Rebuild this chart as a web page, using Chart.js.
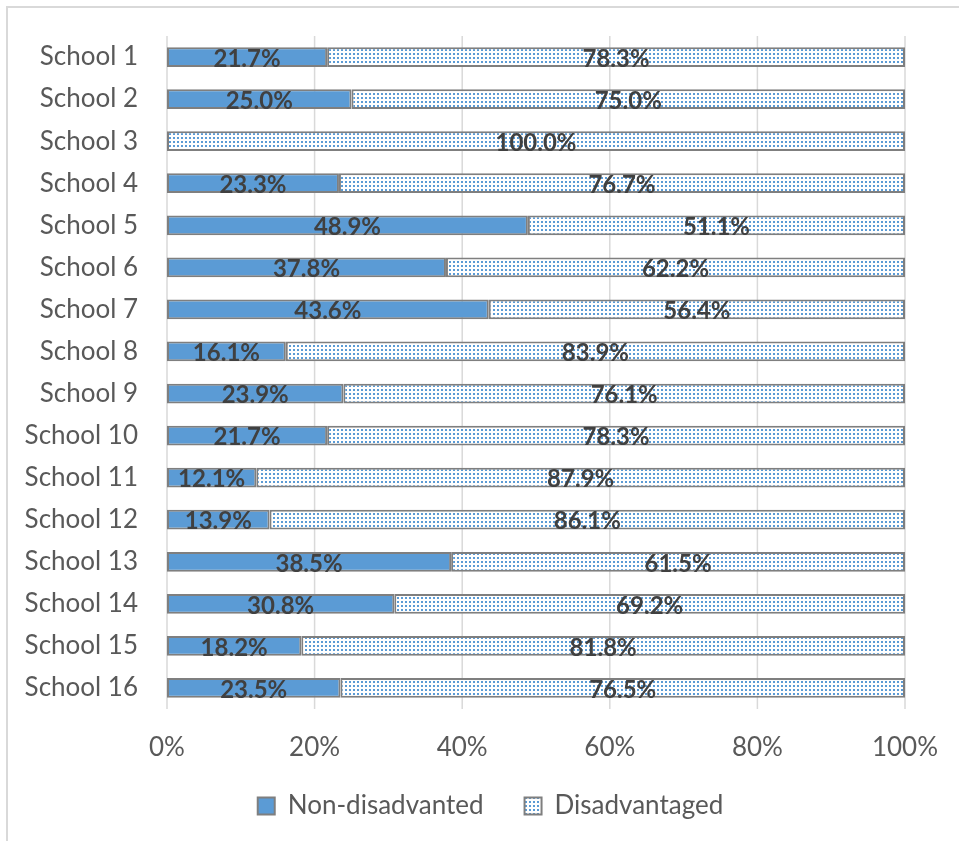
<!DOCTYPE html>
<html>
<head>
<meta charset="utf-8">
<script src="https://cdn.jsdelivr.net/npm/chart.js@4/dist/chart.umd.min.js"></script>
<style>
  html, body { margin: 0; padding: 0; background: #fff; }
  #wrap { position: relative; width: 959px; height: 841px; overflow: hidden; }
  #frame { position: absolute; left: 6px; top: 6px; width: 1000px; height: 900px;
           border-left: 2px solid #d9d9d9; border-top: 2px solid #d9d9d9; box-sizing: border-box; }
  canvas { position: absolute; left: 0; top: 0; }
</style>
</head>
<body>
<div id="wrap">
  <div id="frame"></div>
  <canvas id="c" width="959" height="841"></canvas>
</div>
<script>
const categories = ["School 1","School 2","School 3","School 4","School 5","School 6","School 7","School 8",
  "School 9","School 10","School 11","School 12","School 13","School 14","School 15","School 16"];
const nonDisadvantaged = [21.7,25.0,0,23.3,48.9,37.8,43.6,16.1,23.9,21.7,12.1,13.9,38.5,30.8,18.2,23.5];
const disadvantaged = [78.3,75.0,100.0,76.7,51.1,62.2,56.4,83.9,76.1,78.3,87.9,86.1,61.5,69.2,81.8,76.5];
const seriesNames = ["Non-disadvanted","Disadvantaged"];
const xTicks = [0,20,40,60,80,100];

const BLUE = '#5b9bd5';
function makePattern() {
  const p = document.createElement('canvas');
  p.width = 4; p.height = 4;
  const g = p.getContext('2d');
  g.fillStyle = '#ffffff'; g.fillRect(0,0,4,4);
  g.fillStyle = BLUE; g.fillRect(1,1,2,2);
  return g.createPattern(p, 'repeat');
}
const ctx = document.getElementById('c').getContext('2d');
const dotPattern = makePattern();

// vertical gridlines from the x scale's ticks, spanning the category band extent
const gridLines = {
  id: 'gridLines',
  beforeDatasetsDraw(chart) {
    const c = chart.ctx, xs = chart.scales.x, ys = chart.scales.y;
    const top = ys.getPixelForValue(-0.5);
    const bottom = ys.getPixelForValue(categories.length - 0.5);
    c.save();
    c.strokeStyle = '#d9d9d9';
    c.lineWidth = 1.5;
    xs.ticks.forEach(t => {
      const px = xs.getPixelForValue(t.value);
      c.beginPath();
      c.moveTo(px, Math.min(top, bottom));
      c.lineTo(px, Math.max(top, bottom));
      c.stroke();
    });
    c.restore();
  }
};

const dataLabels = {
  id: 'dataLabels',
  afterDatasetsDraw(chart) {
    const c = chart.ctx;
    c.save();
    c.font = 'bold 24px Lato';
    c.fillStyle = '#404040';
    c.textAlign = 'center';
    c.textBaseline = 'middle';
    chart.data.datasets.forEach((ds, di) => {
      const meta = chart.getDatasetMeta(di);
      meta.data.forEach((el, i) => {
        const v = ds.data[i];
        if (!v) return;
        const pt = el.getCenterPoint();
        c.fillText(v.toFixed(1) + '%', pt.x, pt.y + 2);
      });
    });
    c.restore();
  }
};

const legendShift = {
  id: 'legendShift',
  afterLayout(chart) {
    const lg = chart.legend;
    if (lg) { lg.left += 28; lg.right += 28; lg.top -= 12; lg.bottom -= 12; }
  }
};

new Chart(ctx, {
  type: 'bar',
  data: {
    labels: categories,
    datasets: [
      { label: seriesNames[0], data: nonDisadvantaged, backgroundColor: BLUE,
        borderColor: '#7f7f7f', borderWidth: 2, borderSkipped: false },
      { label: seriesNames[1], data: disadvantaged, backgroundColor: dotPattern,
        borderColor: '#7f7f7f', borderWidth: 2, borderSkipped: false }
    ]
  },
  options: {
    indexAxis: 'y',
    responsive: false,
    animation: false,
    devicePixelRatio: 1,
    layout: { padding: { left: 20, right: 54, top: 36, bottom: 0 } },
    datasets: { bar: { categoryPercentage: 1, barPercentage: 0.47 } },
    scales: {
      x: {
        stacked: true, min: 0, max: 100,
        afterBuildTicks(scale) { scale.ticks = xTicks.map(v => ({ value: v })); },
        afterFit(scale) { scale.height = 55; scale.paddingLeft = 0; scale.paddingRight = 0; },
        ticks: { callback: v => v + '%', font: { family: 'Lato', size: 26 }, color: '#595959', padding: 23 },
        grid: { display: false, drawTicks: false, tickLength: 0 },
        border: { display: false }
      },
      y: {
        stacked: true,
        afterFit(scale) { scale.width = 147; scale.paddingTop = 0; scale.paddingBottom = 0; },
        ticks: { font: { family: 'Lato', size: 26 }, color: '#595959', padding: 29 },
        grid: { display: false, drawTicks: false, tickLength: 0 },
        border: { display: false }
      }
    },
    plugins: {
      legend: {
        position: 'bottom',
        labels: { font: { family: 'Lato', size: 26 }, color: '#595959', boxWidth: 17, boxHeight: 17, padding: 41 }
      },
      tooltip: { enabled: false }
    }
  },
  plugins: [gridLines, dataLabels, legendShift]
});
</script>
</body>
</html>
